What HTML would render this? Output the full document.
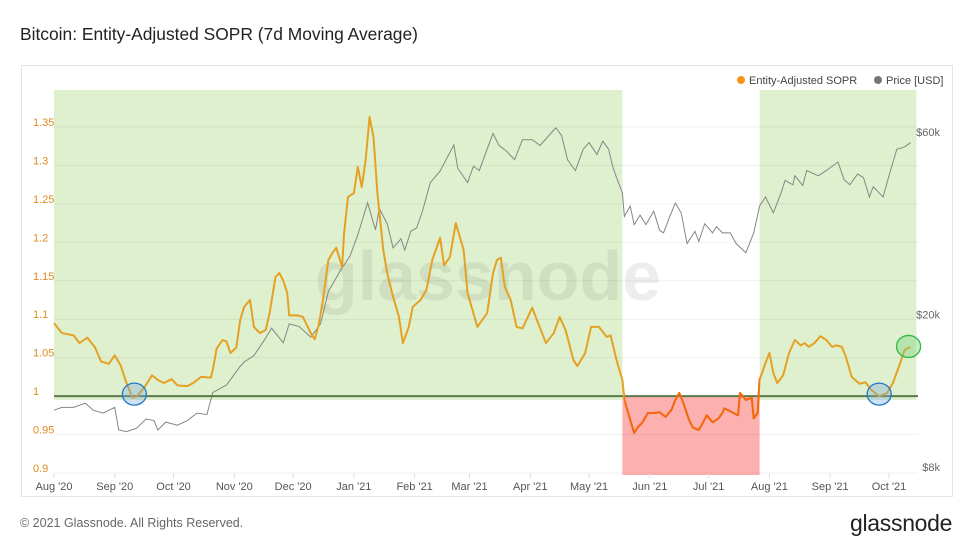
<!DOCTYPE html>
<html><head><meta charset="utf-8">
<style>
body{margin:0;background:#fff;width:974px;height:550px;overflow:hidden;font-family:"Liberation Sans",sans-serif;}
#title{position:absolute;left:20px;top:24px;font-size:17.4px;color:#222;}
#box{position:absolute;left:21px;top:65px;width:932px;height:432px;border:1px solid #e4e4e4;box-sizing:border-box;}
#foot{position:absolute;left:20px;top:516px;font-size:12.5px;color:#666;}
#logo{position:absolute;left:850px;top:510px;font-size:23px;color:#222;letter-spacing:-0.3px;}
svg{position:absolute;left:0;top:0;}
</style></head><body>
<div id="title">Bitcoin: Entity-Adjusted SOPR (7d Moving Average)</div>
<div id="box"></div>
<div id="foot">© 2021 Glassnode. All Rights Reserved.</div>
<div id="logo">glassnode</div>
<svg id="chart" width="974" height="550"></svg>
<script>
// days since Aug 1 2020
const soprDays=[0,4,10,13,17,21,24,28,31,34,37,40,42,46,50,53,56,60,63,68,71,75,80,81,83,86,88,90,93,95,97,100,102,105,108,110,113,115,117,119,120,124,127,131,133,135,137,140,142,144,147,148,150,153,155,157,159,161,163,165,168,170,173,176,178,181,183,187,190,193,197,199,202,205,209,211,216,221,224,226,228,230,233,236,239,244,247,251,255,258,261,265,267,271,274,278,282,284,287,290,291,294,296,298,300,303,306,309,312,315,317,319,321,324,326,329,331,333,336,339,341,342,346,349,350,353,356,357,359,360,363,365,367,369,372,375,378,381,383,385,388,391,394,397,399,402,404,407,411,414,417,421,425,428,432,434,437];
const soprValues=[1.095,1.082,1.079,1.069,1.076,1.063,1.045,1.042,1.053,1.040,1.017,0.998,0.999,1.011,1.027,1.021,1.017,1.022,1.014,1.013,1.017,1.025,1.024,1.034,1.062,1.073,1.071,1.056,1.063,1.099,1.116,1.125,1.090,1.082,1.086,1.108,1.155,1.160,1.150,1.134,1.105,1.105,1.103,1.082,1.074,1.092,1.121,1.177,1.186,1.193,1.168,1.212,1.259,1.264,1.298,1.272,1.307,1.363,1.337,1.264,1.190,1.160,1.129,1.103,1.069,1.090,1.116,1.125,1.138,1.177,1.206,1.170,1.181,1.225,1.190,1.134,1.090,1.108,1.160,1.177,1.180,1.142,1.125,1.090,1.088,1.115,1.095,1.069,1.082,1.103,1.086,1.047,1.039,1.056,1.090,1.090,1.077,1.079,1.047,1.021,0.995,0.969,0.952,0.960,0.965,0.978,0.978,0.979,0.973,0.982,0.995,1.004,0.992,0.969,0.959,0.956,0.965,0.975,0.966,0.971,0.978,0.984,0.979,0.975,1.004,0.995,0.998,0.971,0.978,1.021,1.043,1.056,1.030,1.017,1.027,1.056,1.073,1.066,1.069,1.064,1.069,1.078,1.073,1.064,1.066,1.064,1.051,1.025,1.016,1.018,1.008,1.000,1.004,1.017,1.045,1.060,1.064];
const priceDays=[0,4,10,16,20,25,31,33,37,42,47,51,53,57,63,68,73,78,81,88,95,97,102,108,111,117,120,125,131,136,140,146,151,155,160,164,166,170,173,177,179,182,185,188,192,197,204,206,211,214,217,222,224,227,231,235,239,244,248,252,256,259,262,266,270,273,277,280,283,285,287,290,291,294,296,299,302,306,309,311,314,317,320,323,327,329,332,336,338,341,345,348,353,357,360,363,367,371,373,377,378,382,384,390,394,400,403,406,410,413,416,418,423,426,430,434,437];
const priceValues=[11.6,11.8,11.8,12.1,11.6,11.4,11.8,10.3,10.2,10.4,11.0,10.9,10.3,10.8,10.6,10.9,11.4,11.3,12.9,13.5,15.1,15.5,16.1,17.9,19.0,17.4,19.5,19.2,18.0,19.5,23.7,26.8,29.3,33.3,40.4,34.3,39.0,35.6,30.8,32.5,30.4,34.0,34.7,38.4,45.6,48.9,57.2,49.7,45.6,50.3,49.0,57.6,61.3,57.0,55.0,52.3,59.0,59.0,57.0,60.1,63.4,60.5,52.3,49.0,55.7,58.0,54.0,58.5,55.7,50.3,47.0,42.9,37.2,39.6,35.4,37.5,35.4,38.4,34.2,33.7,37.0,40.3,38.0,31.6,34.0,32.0,35.6,33.7,35.0,33.7,33.7,31.6,29.9,33.7,39.6,41.8,38.0,42.9,46.2,45.0,47.5,44.8,49.0,47.5,49.0,51.6,46.5,45.0,48.0,47.0,41.8,44.5,41.8,47.5,55.7,56.5,58.0];
const soprTicks=[0.9,0.95,1,1.05,1.1,1.15,1.2,1.25,1.3,1.35];
const priceTicks=[8,20,60];
const monthLabels=["Aug '20","Sep '20","Oct '20","Nov '20","Dec '20","Jan '21","Feb '21","Mar '21","Apr '21","May '21","Jun '21","Jul '21","Aug '21","Sep '21","Oct '21"];
const monthDays=[0,31,61,92,122,153,184,212,243,273,304,334,365,396,426];
const redStart=290, redEnd=360;

const X=d=>54+d*1.96;
const Y=v=>473-(v-0.9)*768.9;
const P=p=>472-Math.log(p/8)*166.3;
const svg=document.getElementById('chart');
const NS='http://www.w3.org/2000/svg';
function mk(t,a){const e=document.createElementNS(NS,t);for(const k in a)e.setAttribute(k,a[k]);svg.appendChild(e);return e;}

let r;
r=mk('rect',{x:X(0),y:90,width:X(redStart)-X(0),height:400-90,fill:'#dff0cf'});


r=mk('rect',{x:X(redEnd),y:90,width:X(440)-X(redEnd),height:400-90,fill:'#dff0cf'});


r=mk('rect',{x:X(redStart),y:Y(1),width:X(redEnd)-X(redStart),height:475-Y(1),fill:'#fdb0b0'});



soprTicks.forEach(v=>{
  const g=mk('line',{x1:54,x2:918,y1:Y(v),y2:Y(v),stroke:'rgba(0,0,0,0.06)','stroke-width':1});
  
  
  const t=mk('text',{x:33,y:Y(v)-1,fill:'#e08a1e','font-size':11});
  t.textContent=v===1?'1':String(v);
  
  
});
priceTicks.forEach(p=>{
  const t=mk('text',{x:940,y:P(p)-1,fill:'#666','font-size':11,'text-anchor':'end'});
  t.textContent='$'+p+'k';
  
  
});
monthLabels.forEach((m,i)=>{
  const l=mk('line',{x1:X(monthDays[i]),x2:X(monthDays[i]),y1:473,y2:478,stroke:'#ddd'});
  
  
  const t=mk('text',{x:X(monthDays[i]),y:490,fill:'#555','font-size':11,'text-anchor':'middle'});
  t.textContent=m;
  
  
});

const wm=mk('text',{x:488,y:300,'font-size':70,fill:'rgba(0,0,0,0.07)','text-anchor':'middle','font-weight':'bold'});
wm.textContent='glassnode';



const pl=mk('polyline',{points:priceDays.map((d,i)=>X(d)+','+P(priceValues[i])).join(' '),fill:'none',stroke:'#858585','stroke-width':1});



const bl=mk('line',{x1:54,x2:918,y1:Y(1),y2:Y(1),stroke:'#5d7a4a','stroke-width':2});



const pts=soprDays.map((d,i)=>X(d)+','+Y(soprValues[i])).join(' ');
const sl=mk('polyline',{points:pts,fill:'none',stroke:'#e5a124','stroke-width':2,'stroke-linejoin':'round'});


const defs=mk('defs',{});
const cp=document.createElementNS(NS,'clipPath');cp.setAttribute('id','rc');
const cr=document.createElementNS(NS,'rect');
cr.setAttribute('x',X(redStart)+2);cr.setAttribute('y',0);cr.setAttribute('width',X(redEnd)-X(redStart)-2);cr.setAttribute('height',550);
cp.appendChild(cr);defs.appendChild(cp);
const sl2=mk('polyline',{points:pts,fill:'none',stroke:'#f5660f','stroke-width':2,'clip-path':'url(#rc)','stroke-linejoin':'round'});



[[41,1.0,'rgba(120,170,220,0.35)','#1f78c8','blue-circle-1'],[421,1.0,'rgba(120,170,220,0.35)','#1f78c8','blue-circle-2'],[436,1.062,'rgba(120,210,120,0.4)','#2fb84a','green-circle']].forEach(c=>{
  const e=mk('ellipse',{cx:X(c[0]),cy:Y(c[1])-2,rx:12,ry:11,fill:c[2],stroke:c[3],'stroke-width':1.3});
  
  
});

const lg1=mk('circle',{cx:741,cy:80,r:4,fill:'#f7931a'});


const lt1=mk('text',{x:749,y:84,'font-size':11,fill:'#444'});lt1.textContent='Entity-Adjusted SOPR';


const lg2=mk('circle',{cx:878,cy:80,r:4,fill:'#777'});


const lt2=mk('text',{x:886,y:84,'font-size':11,fill:'#444'});lt2.textContent='Price [USD]';


</script>
</body></html>
